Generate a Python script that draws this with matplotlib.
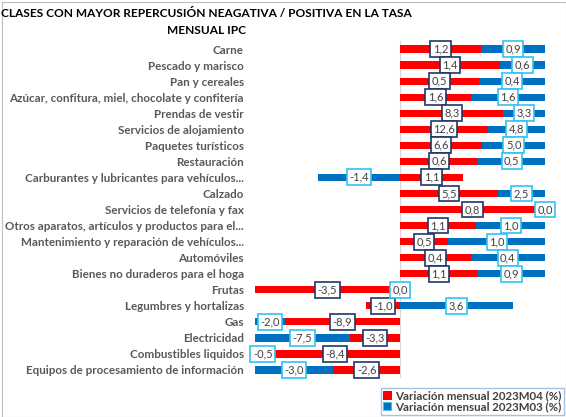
import numpy as np
import matplotlib
matplotlib.use("Agg")
import matplotlib.pyplot as plt
from matplotlib.patches import Patch, Rectangle

categories = [
    "Carne", "Pescado y marisco", "Pan y cereales",
    "Azúcar, confitura, miel, chocolate y confitería", "Prendas de vestir",
    "Servicios de alojamiento", "Paquetes turísticos", "Restauración",
    "Carburantes y lubricantes para vehículos...", "Calzado",
    "Servicios de telefonía y fax", "Otros aparatos, artículos y productos para el...",
    "Mantenimiento y reparación de vehículos...", "Automóviles",
    "Bienes no duraderos para el hoga", "Frutas", "Legumbres y hortalizas", "Gas",
    "Electricidad", "Combustibles liquidos", "Equipos de procesamiento de información",
]

# bar lengths (repercusion)
rep_m04 = [0.084, 0.103, 0.082, 0.073, 0.107, 0.091, 0.085, 0.081, 0.065, 0.101,
           0.160, 0.079, 0.050, 0.073, 0.081, -0.170, -0.035, -0.119, -0.052, -0.134, -0.069]
rep_m03 = [0.090, 0.070, 0.080, 0.100, 0.060, 0.120, 0.090, 0.080, -0.085, 0.070,
           0.000, 0.080, 0.110, 0.090, 0.080, 0.000, 0.117, -0.050, -0.120, -0.030, -0.100]

# monthly variation shown in the labels
var_m04 = [1.2, 1.4, 0.5, 1.6, 8.3, 12.6, 6.6, 0.6, 1.1, 5.5, 0.8, 1.1, 0.5, 0.4, 1.1,
           -3.5, -1.0, -8.9, -3.3, -8.4, -2.6]
var_m03 = [0.9, 0.6, 0.4, 1.6, 3.3, 4.8, 5.0, 0.5, -1.4, 2.5, 0.0, 1.0, 1.0, 0.4, 0.9,
           0.0, 3.6, -2.0, -7.5, -0.5, -3.0]

series = [
    ("Variación mensual 2023M04 (%)", rep_m04, var_m04, "#FF0000", "#1F3864"),
    ("Variación mensual 2023M03 (%)", rep_m03, var_m03, "#0070C0", "#33C3F0"),
]

plt.rcParams["font.family"] = ["Lato", "DejaVu Sans"]
XMIN, XMAX = -0.15, 0.15

fig = plt.figure(figsize=(5.66, 4.17), dpi=100)
ax = fig.add_axes([0.4505, 0.0935, 0.5125, 0.8082])
y = np.arange(len(categories))

ax.axvline(0, color="#D9D9D9", lw=0.8, zorder=0)

pos_base = np.zeros(len(categories))
neg_base = np.zeros(len(categories))
for name, rep, var, color, edge in series:
    rep = np.array(rep)
    left = np.where(rep >= 0, pos_base, neg_base)
    ax.barh(y, rep, left=left, height=0.45, color=color, zorder=2)
    for i in range(len(categories)):
        a = np.clip(left[i], XMIN, XMAX)
        b = np.clip(left[i] + rep[i], XMIN, XMAX)
        ax.text((a + b) / 2, y[i], f"{var[i]:.1f}".replace(".", ","),
                ha="center", va="center", fontsize=8, color="#404040", zorder=5,
                bbox=dict(boxstyle="square,pad=0.22", fc="white", ec=edge, lw=1.2))
    pos_base = pos_base + np.where(rep >= 0, rep, 0)
    neg_base = neg_base + np.where(rep < 0, rep, 0)

ax.set_xlim(XMIN, XMAX)
ax.set_ylim(len(categories) - 0.5, -0.5)
ax.set_yticks(y)
ax.set_yticklabels(categories, fontsize=8.4, fontweight="bold", color="#595959")
ax.tick_params(axis="y", length=0, pad=8)
ax.set_xticks([])
for s in ax.spines.values():
    s.set_visible(False)

fig.text(0.364, 0.947, "CLASES CON MAYOR REPERCUSIÓN NEAGATIVA / POSITIVA EN LA TASA\nMENSUAL IPC",
         ha="center", va="center", fontsize=8.6, fontweight="bold", color="black",
         linespacing=1.7)

handles = [Patch(facecolor=c, edgecolor=e, lw=0.6, label=n) for n, _, _, c, e in series]
leg = fig.legend(handles=handles, loc="lower right", bbox_to_anchor=(1.0, 0.0),
                 fontsize=8.3, frameon=True, fancybox=False, handlelength=0.7,
                 handleheight=0.7, handletextpad=0.35, borderpad=0.2, labelspacing=0.05,
                 borderaxespad=0.2)
leg.get_frame().set_edgecolor("#8EB4E3")
for t in leg.get_texts():
    t.set_color("#404040")
    t.set_fontweight("bold")

fig.patches.append(Rectangle((0.003, 0.0), 0.997, 0.995, transform=fig.transFigure,
                             fill=False, ec="#BFBFBF", lw=0.8))

fig.savefig("out.png", dpi=100)
